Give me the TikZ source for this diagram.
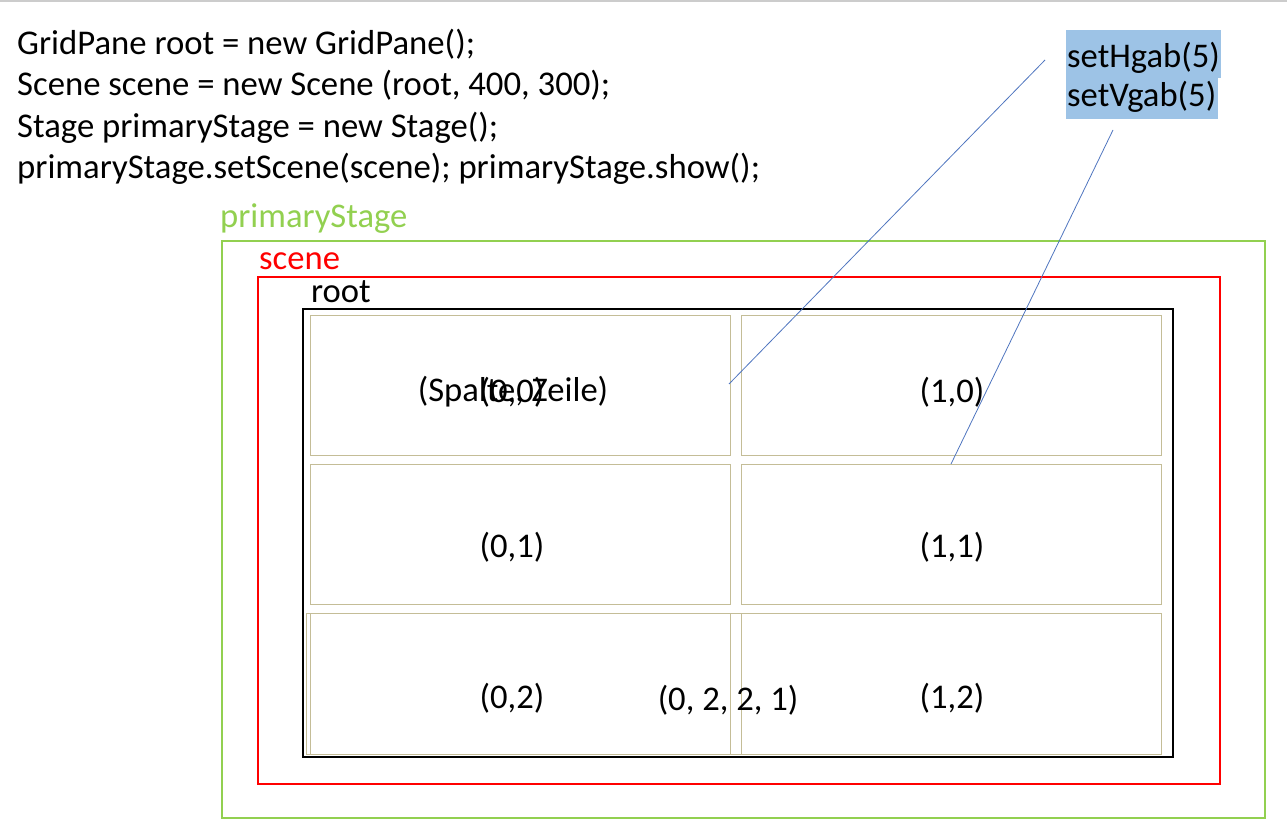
\documentclass[tikz,border=0pt]{standalone}
\usepackage{fontspec}
\setmainfont{Carlito}
\definecolor{stagegreen}{HTML}{92D050}
\definecolor{cellline}{HTML}{C4BD97}
\definecolor{hlblue}{HTML}{9DC3E6}
\definecolor{linkblue}{HTML}{4F75BF}
\begin{document}
\begin{tikzpicture}[x=1pt,y=-1pt,
  codetext/.style={anchor=base west,inner sep=0pt,font=\fontsize{34.7}{40}\selectfont},
  labeltext/.style={anchor=base west,inner sep=0pt,font=\fontsize{34.6}{40}\selectfont},
  celltext/.style={anchor=center,inner sep=0pt,font=\fontsize{34.6}{40}\selectfont},
  cellbox/.style={draw=cellline,line width=1pt},
  linkline/.style={draw=linkblue,line width=0.8pt}]
\useasboundingbox (0,0) rectangle (1287,836);
\draw[gray!40,line width=1.5pt] (0,1) -- (1287,1);
% code
\node[codetext] (l1) at (17,54) {GridPane root = new GridPane();};
\node[codetext] (l2) at (17,95.5) {Scene scene = new Scene (root, 400, 300);};
\node[codetext] (l3) at (17,137) {Stage primaryStage = new Stage();};
\node[codetext] (l4) at (17,178.5) {primaryStage.setScene(scene); primaryStage.show();};
% containers
\node[labeltext,text=stagegreen] (lstage) at (220,227) {primaryStage};
\draw[stagegreen,line width=1.8pt] (222,241) rectangle (1265,818);
\node[labeltext,text=red] (lscene) at (259,269) {scene};
\draw[red,line width=1.8pt] (258,277) rectangle (1220,784);
\node[labeltext] (lroot) at (311,302) {root};
\draw[black,line width=2.4pt] (303,309) rectangle (1173,757);
% cells
\draw[cellbox] (310,315) rectangle (730,455);
\draw[cellbox] (741,315) rectangle (1161,455);
\draw[cellbox] (310,464) rectangle (730,604);
\draw[cellbox] (741,464) rectangle (1161,604);
\draw[cellbox] (306,613) rectangle (1161,754);
\draw[cellbox] (310,613) rectangle (730,754);
\draw[cellbox] (741,613) rectangle (1161,754);
\coordinate (c00) at (729,384);
\coordinate (c11) at (951,464);
\node[celltext] (t00a) at (513,392) {(Spalte, Zeile)};
\node[celltext] (t00) at (512,392) {(0,0)};
\node[celltext] (t10) at (952,392) {(1,0)};
\node[celltext] (t01) at (512,547) {(0,1)};
\node[celltext] (t11) at (952,547) {(1,1)};
\node[celltext] (t02) at (512,698) {(0,2)};
\node[celltext] (t12) at (952,698) {(1,2)};
\node[celltext] (tspan) at (728,700) {(0, 2, 2, 1)};
% highlighted gap text
\fill[hlblue] (1066,30) rectangle (1221,78);
\fill[hlblue] (1066,78) rectangle (1218,119);
\node[labeltext] (hg) at (1067,67) {setHgab(5)};
\node[labeltext] (vg) at (1067,106) {setVgab(5)};
\coordinate (hgend) at (1045,60);
\coordinate (vgend) at (1113,130);
\draw[linkline] (hgend) -- (c00);
\draw[linkline] (vgend) -- (c11);
\end{tikzpicture}
\end{document}
